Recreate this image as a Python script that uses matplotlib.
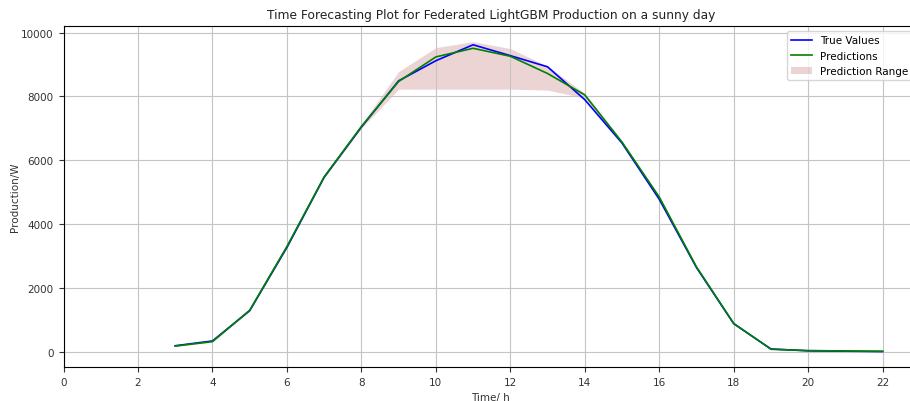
import numpy as np
import matplotlib.pyplot as plt

hours = [3, 4, 5, 6, 7, 8, 9, 10, 11, 12, 13, 14, 15, 16, 17, 18, 19, 20, 21, 22]
true_values = [190, 340, 1290, 3270, 5470, 7040, 8490, 9120, 9620, 9280, 8930,
               7900, 6540, 4780, 2640, 880, 90, 30, 20, 10]
predictions = [180, 320, 1300, 3300, 5480, 7060, 8470, 9240, 9510, 9260, 8720,
               8050, 6570, 4850, 2660, 890, 80, 40, 25, 15]
pred_lower = [170, 300, 1270, 3260, 5440, 7000, 8230, 8230, 8230, 8230, 8200,
              7950, 6540, 4790, 2630, 870, 70, 30, 15, 10]
pred_upper = [200, 350, 1330, 3330, 5510, 7120, 8780, 9530, 9720, 9500, 8950,
              8100, 6610, 4880, 2690, 910, 95, 45, 30, 20]

fig = plt.figure(figsize=(9.1, 4.02), dpi=100)
ax = fig.add_axes([0.0698, 0.0846, 0.939, 0.848])

ax.plot(hours, true_values, color='blue', linewidth=1.2, label='True Values')
ax.plot(hours, predictions, color='green', linewidth=1.2, label='Predictions')
ax.fill_between(hours, pred_lower, pred_upper, color='brown', alpha=0.2,
                linewidth=0, label='Prediction Range')

ax.set_xlim(left=0)
ax.set_xticks(np.arange(0, 23, 2))
ax.tick_params(labelsize=7.5, colors='#333333')
ax.set_title('Time Forecasting Plot for Federated LightGBM Production on a sunny day',
             fontsize=8.8, color='#222222')
ax.set_xlabel('Time/ h', fontsize=7.5, color='#333333')
ax.set_ylabel('Production/W', fontsize=7.5, color='#333333', labelpad=1)
ax.legend(loc='upper right', fontsize=7.5)
ax.grid(True, color='#c4c4c4')

fig.savefig('out.png', dpi=100)
